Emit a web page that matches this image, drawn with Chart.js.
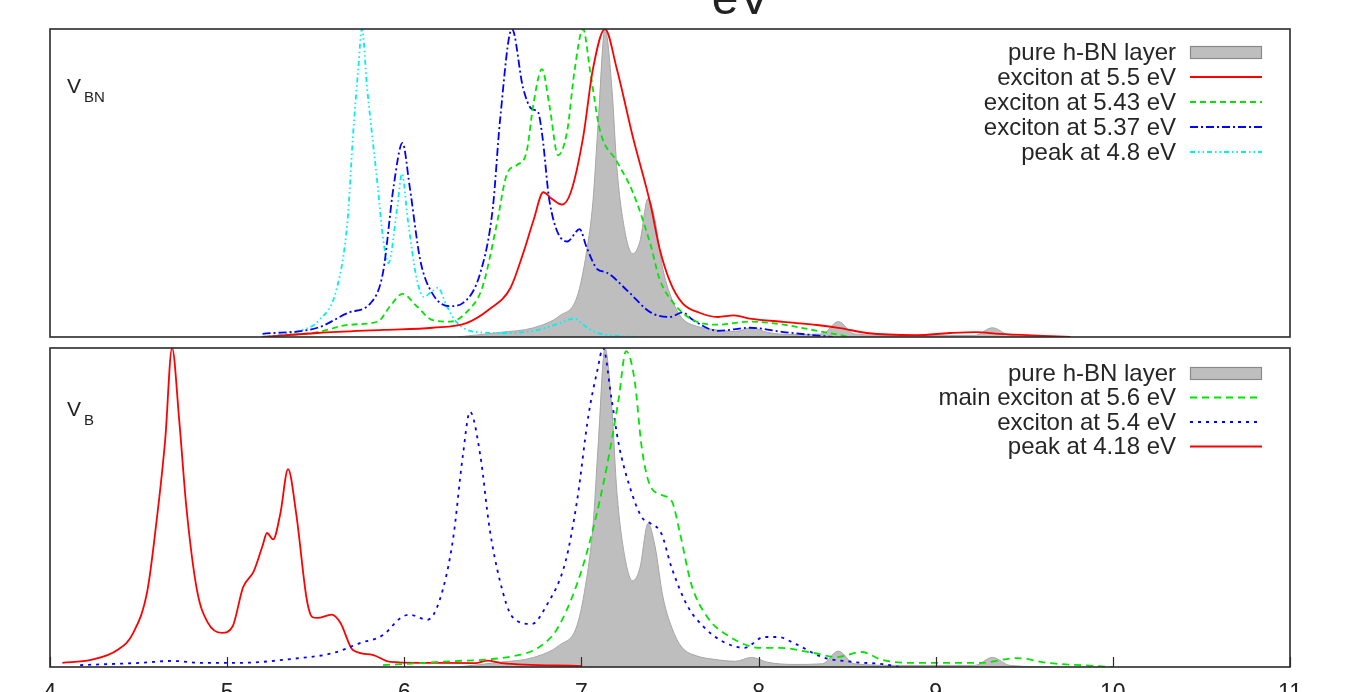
<!DOCTYPE html>
<html>
<head>
<meta charset="utf-8">
<script src="https://cdn.jsdelivr.net/npm/chart.js@4.4.1/dist/chart.umd.min.js"></script>
<style>
  html, body { margin: 0; padding: 0; background: #fff; overflow: hidden; }
  #wrap { position: relative; width: 1355px; height: 692px; }
  canvas { position: absolute; left: 0; }
  #topChart { top: 0; }
  #botChart { top: 340px; }
</style>
</head>
<body>
<div id="wrap">
  <canvas id="topChart" width="1355" height="345"></canvas>
  <canvas id="botChart" width="1355" height="352"></canvas>
</div>
<script>
// energy axis
const xTicks = [4, 5, 6, 7, 8, 9, 10, 11];

// pure h-BN layer (same spectrum in both panels)
const hbnE = [6.30, 6.54, 6.73, 6.88, 6.975, 7.03, 7.065, 7.095, 7.133, 7.173, 7.20, 7.25, 7.29, 7.33, 7.376, 7.415, 7.46, 7.52, 7.57, 7.65, 7.75, 7.87, 7.96, 8.05, 8.2, 8.36, 8.45, 8.54, 8.8, 9.22, 9.32, 9.42, 9.7];
const hbnI = [0.0, 0.015, 0.03, 0.07, 0.13, 0.28, 0.44, 0.70, 1.0, 0.80, 0.55, 0.33, 0.27, 0.31, 0.45, 0.38, 0.22, 0.11, 0.06, 0.035, 0.024, 0.018, 0.03, 0.015, 0.008, 0.01, 0.05, 0.01, 0.005, 0.005, 0.03, 0.005, 0.0];

// V_BN panel
const vbnRedE = [5.20, 5.51, 5.88, 6.16, 6.35, 6.48, 6.60, 6.67, 6.73, 6.785, 6.83, 6.89, 6.94, 7.01, 7.065, 7.133, 7.20, 7.29, 7.39, 7.44, 7.50, 7.57, 7.67, 7.77, 7.86, 7.95, 8.14, 8.33, 8.46, 8.61, 8.89, 9.08, 9.23, 9.36, 9.65, 9.76];
const vbnRedI = [0.0, 0.013, 0.023, 0.03, 0.045, 0.09, 0.16, 0.27, 0.38, 0.47, 0.45, 0.43, 0.47, 0.65, 0.87, 1.0, 0.87, 0.65, 0.43, 0.29, 0.18, 0.11, 0.078, 0.065, 0.07, 0.06, 0.049, 0.039, 0.029, 0.013, 0.006, 0.013, 0.016, 0.01, 0.003, 0.0];

const vbnGreenE = [5.20, 5.51, 5.69, 5.85, 5.92, 5.99, 6.07, 6.16, 6.26, 6.35, 6.44, 6.52, 6.58, 6.64, 6.69, 6.73, 6.777, 6.82, 6.868, 6.92, 6.96, 7.009, 7.05, 7.105, 7.20, 7.29, 7.39, 7.44, 7.52, 7.63, 7.77, 7.95, 8.14, 8.33, 8.52];
const vbnGreenI = [0.0, 0.016, 0.04, 0.05, 0.10, 0.14, 0.10, 0.055, 0.05, 0.08, 0.16, 0.36, 0.53, 0.56, 0.60, 0.76, 0.87, 0.75, 0.59, 0.67, 0.86, 1.0, 0.86, 0.67, 0.57, 0.47, 0.30, 0.19, 0.11, 0.055, 0.04, 0.05, 0.04, 0.02, 0.0];

const vbnBlueE = [5.20, 5.51, 5.69, 5.81, 5.88, 5.94, 5.99, 6.03, 6.09, 6.16, 6.26, 6.33, 6.43, 6.50, 6.54, 6.608, 6.67, 6.72, 6.755, 6.78, 6.82, 6.92, 6.99, 7.03, 7.09, 7.14, 7.26, 7.39, 7.50, 7.57, 7.63, 7.77, 7.95, 8.14, 8.42];
const vbnBlueI = [0.01, 0.03, 0.08, 0.11, 0.21, 0.49, 0.63, 0.49, 0.25, 0.14, 0.10, 0.11, 0.21, 0.42, 0.70, 1.0, 0.81, 0.74, 0.73, 0.65, 0.44, 0.31, 0.35, 0.29, 0.22, 0.21, 0.15, 0.08, 0.065, 0.08, 0.055, 0.02, 0.03, 0.016, 0.0];

const vbnCyanE = [5.19, 5.41, 5.52, 5.62, 5.68, 5.71, 5.74, 5.761, 5.79, 5.81, 5.85, 5.88, 5.91, 5.96, 5.987, 6.02, 6.07, 6.11, 6.16, 6.19, 6.24, 6.30, 6.41, 6.56, 6.73, 6.88, 6.96, 7.01, 7.09, 7.33];
const vbnCyanI = [0.0, 0.02, 0.055, 0.16, 0.38, 0.65, 0.87, 1.0, 0.81, 0.70, 0.49, 0.32, 0.24, 0.42, 0.53, 0.38, 0.19, 0.13, 0.15, 0.16, 0.10, 0.045, 0.016, 0.013, 0.02, 0.045, 0.06, 0.04, 0.013, 0.0];

// V_B panel
const vbGreenE = [5.88, 6.20, 6.65, 6.755, 6.86, 6.975, 7.06, 7.144, 7.21, 7.252, 7.30, 7.34, 7.38, 7.45, 7.51, 7.556, 7.62, 7.71, 7.84, 8.01, 8.12, 8.31, 8.44, 8.58, 8.70, 8.87, 9.25, 9.46, 9.63, 9.91, 10.0];
const vbGreenI = [0.006, 0.016, 0.038, 0.06, 0.117, 0.26, 0.42, 0.63, 0.84, 0.99, 0.90, 0.69, 0.58, 0.54, 0.52, 0.42, 0.26, 0.157, 0.094, 0.06, 0.06, 0.044, 0.031, 0.047, 0.022, 0.013, 0.013, 0.028, 0.013, 0.003, 0.0];

const vbBlueE = [4.17, 4.51, 4.69, 4.85, 5.07, 5.36, 5.60, 5.75, 5.88, 5.98, 6.03, 6.13, 6.20, 6.275, 6.33, 6.371, 6.43, 6.48, 6.54, 6.61, 6.72, 6.80, 6.91, 6.975, 7.04, 7.09, 7.122, 7.17, 7.21, 7.27, 7.34, 7.39, 7.45, 7.51, 7.60, 7.69, 7.79, 7.92, 8.03, 8.11, 8.21, 8.36, 8.53, 8.70, 8.80];
const vbBlueI = [0.006, 0.013, 0.019, 0.013, 0.013, 0.025, 0.044, 0.075, 0.10, 0.154, 0.164, 0.148, 0.21, 0.40, 0.66, 0.80, 0.66, 0.44, 0.27, 0.157, 0.135, 0.19, 0.33, 0.52, 0.79, 0.93, 1.0, 0.84, 0.70, 0.57, 0.47, 0.45, 0.42, 0.31, 0.19, 0.126, 0.082, 0.06, 0.094, 0.094, 0.072, 0.031, 0.016, 0.009, 0.0];

const vbRedE = [4.07, 4.23, 4.38, 4.47, 4.55, 4.60, 4.65, 4.689, 4.73, 4.77, 4.83, 4.89, 4.97, 5.03, 5.09, 5.15, 5.20, 5.225, 5.26, 5.30, 5.344, 5.39, 5.45, 5.48, 5.51, 5.59, 5.64, 5.71, 5.82, 5.92, 6.11, 6.40, 6.47, 6.55, 7.0];
const vbRedI = [0.013, 0.022, 0.053, 0.107, 0.24, 0.45, 0.71, 1.0, 0.77, 0.50, 0.24, 0.14, 0.107, 0.126, 0.25, 0.30, 0.38, 0.42, 0.40, 0.48, 0.62, 0.48, 0.21, 0.157, 0.154, 0.164, 0.138, 0.053, 0.038, 0.016, 0.013, 0.012, 0.02, 0.012, 0.003];

const pts = (xs, ys) => xs.map((x, i) => ({ x, y: ys[i] }));

const FONT = '"Liberation Sans", Arial, sans-serif';

const grayFill = (label) => ({
    label,
    data: pts(hbnE, hbnI),
    fill: 'origin',
    backgroundColor: '#bebebe',
    borderColor: '#a6a6a6',
    borderWidth: 1,
    order: 10,
});
const curve = (label, xs, ys, color, dash) => ({
    label,
    data: pts(xs, ys),
    fill: false,
    borderColor: color,
    borderWidth: 1.8,
    borderDash: dash,
    order: 1,
});

// frame, inner ticks, panel label and legend
const panelDecor = {
    id: 'panelDecor',
    afterDraw(chart, args, opts) {
        const { ctx, chartArea: a } = chart;
        ctx.save();
        ctx.setLineDash([]);
        ctx.strokeStyle = '#2a2a2a';
        ctx.lineWidth = 1.6;
        ctx.strokeRect(a.left, a.top, a.right - a.left, a.bottom - a.top);

        if (opts.ticks) {
            const xs = chart.scales.x;
            ctx.lineWidth = 1.2;
            xTicks.forEach(v => {
                const px = Math.round(xs.getPixelForValue(v)) + 0.5;
                ctx.beginPath();
                ctx.moveTo(px, a.bottom);
                ctx.lineTo(px, a.bottom - 10);
                ctx.stroke();
            });
        }

        // panel label V_xx
        ctx.fillStyle = '#222';
        ctx.textBaseline = 'alphabetic';
        ctx.textAlign = 'left';
        ctx.font = '21px ' + FONT;
        ctx.fillText('V', 67, opts.labelY);
        ctx.font = '15px ' + FONT;
        ctx.fillText(opts.sub, 84, opts.labelY + 9);

        if (opts.title) {
            ctx.font = '48px ' + FONT;
            ctx.textAlign = 'center';
            ctx.fillText(opts.title, 741, 14);
        }

        // legend: text right aligned, sample to the right
        ctx.font = '24px ' + FONT;
        ctx.textAlign = 'right';
        ctx.textBaseline = 'middle';
        chart.data.datasets.forEach((ds, i) => {
            const y = opts.legendY + i * opts.legendStep;
            ctx.fillStyle = '#262626';
            ctx.fillText(ds.label, 1176, y + 1);
            if (ds.fill) {
                ctx.fillStyle = ds.backgroundColor;
                ctx.fillRect(1190, y - 6, 72, 13);
                ctx.strokeStyle = '#8a8a8a';
                ctx.lineWidth = 1.2;
                ctx.setLineDash([]);
                ctx.strokeRect(1190.5, y - 5.5, 71, 12);
            } else {
                ctx.strokeStyle = ds.borderColor;
                ctx.lineWidth = ds.borderWidth;
                ctx.setLineDash(ds.borderDash || []);
                ctx.beginPath();
                ctx.moveTo(1190, y);
                ctx.lineTo(1262, y);
                ctx.stroke();
            }
        });
        ctx.restore();
    }
};

const baseOptions = (extra) => ({
    responsive: false,
    animation: false,
    events: [],
    elements: {
        point: { radius: 0 },
        line: { cubicInterpolationMode: 'monotone' }
    },
    plugins: {
        legend: { display: false },
        tooltip: { enabled: false },
        panelDecor: extra.decor
    },
    layout: { padding: extra.padding },
    scales: {
        x: extra.x,
        y: { min: 0, max: 1, display: false }
    }
});

new Chart(document.getElementById('topChart'), {
    type: 'line',
    data: {
        datasets: [
            grayFill('pure h-BN layer'),
            curve('exciton at 5.5 eV', vbnRedE, vbnRedI, '#ff0000', []),
            curve('exciton at 5.43 eV', vbnGreenE, vbnGreenI, '#00e600', [6, 4]),
            curve('exciton at 5.37 eV', vbnBlueE, vbnBlueI, '#0000ff', [8, 3, 2, 3]),
            curve('peak at 4.8 eV', vbnCyanE, vbnCyanI, '#00f0f0', [5, 3, 1.5, 3, 1.5, 3]),
        ]
    },
    options: baseOptions({
        padding: { left: 50, right: 65, top: 29, bottom: 8 },
        x: { type: 'linear', min: 4, max: 11, display: false },
        decor: { ticks: false, sub: 'BN', labelY: 93, title: 'eV', legendY: 52, legendStep: 25 }
    }),
    plugins: [panelDecor]
});

new Chart(document.getElementById('botChart'), {
    type: 'line',
    data: {
        datasets: [
            grayFill('pure h-BN layer'),
            curve('main exciton at 5.6 eV', vbGreenE, vbGreenI, '#00e600', [7, 5]),
            curve('exciton at 5.4 eV', vbBlueE, vbBlueI, '#0000ff', [3, 5]),
            curve('peak at 4.18 eV', vbRedE, vbRedI, '#ff0000', []),
        ]
    },
    options: baseOptions({
        padding: { left: 50, right: 65, top: 8, bottom: 0 },
        x: {
            type: 'linear', min: 4, max: 11,
            grid: { display: false, drawTicks: false },
            border: { display: false },
            ticks: {
                stepSize: 1, autoSkip: false, padding: 13,
                color: '#222', font: { family: FONT, size: 23 },
                callback: (v) => xTicks.includes(v) ? String(v) : ''
            },
            afterFit: (scale) => { scale.height = 25; }
        },
        decor: { ticks: true, sub: 'B', labelY: 76, legendY: 33, legendStep: 24.5 }
    }),
    plugins: [panelDecor]
});
</script>
</body>
</html>
